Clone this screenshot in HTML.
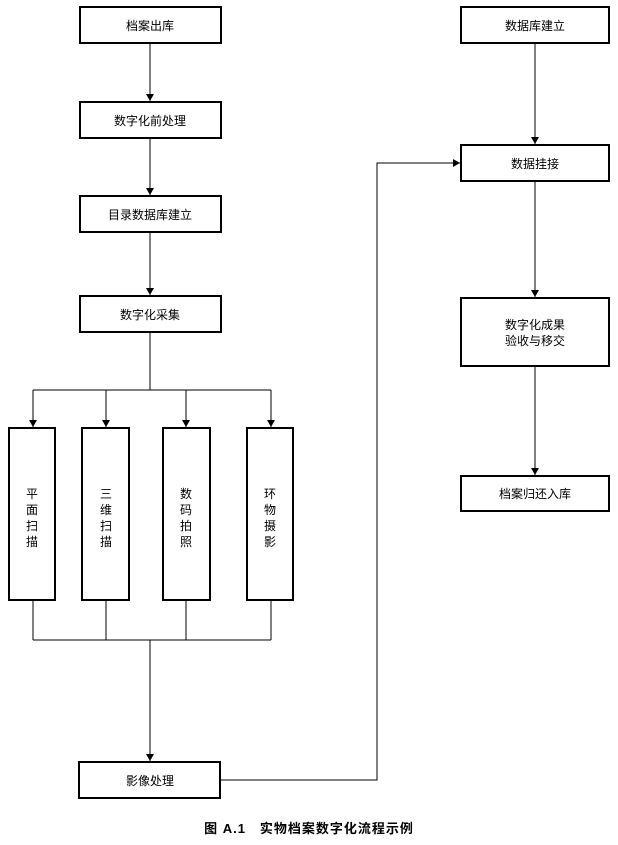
<!DOCTYPE html>
<html><head><meta charset="utf-8"><style>
body{margin:0;background:#fff;}
svg{display:block;font-family:"Liberation Sans","Noto Sans CJK SC",sans-serif;}
</style></head><body>
<svg width="618" height="845" viewBox="0 0 618 845">
<defs><marker id="a" markerWidth="8" markerHeight="10" refX="7" refY="5" orient="auto" markerUnits="userSpaceOnUse"><path d="M0,1 L7,5 L0,9 Z" fill="#000"/></marker></defs>
<g fill="#fff" stroke="#000" stroke-width="2">
<rect x="80" y="7" width="141" height="36"/>
<rect x="80" y="102" width="141" height="36"/>
<rect x="80" y="196" width="141" height="36"/>
<rect x="80" y="296" width="141" height="36"/>
<rect x="9" y="428" width="46" height="172"/>
<rect x="82" y="428" width="47" height="172"/>
<rect x="163" y="428" width="47" height="172"/>
<rect x="247" y="428" width="46" height="172"/>
<rect x="79" y="762" width="141" height="36"/>
<rect x="461" y="7" width="148" height="36"/>
<rect x="461" y="145" width="148" height="36"/>
<rect x="461" y="298" width="148" height="68"/>
<rect x="461" y="476" width="148" height="35"/>
</g>
<g stroke="#000" stroke-width="1" fill="none">
<line x1="150" y1="43" x2="150" y2="101" marker-end="url(#a)"/>
<line x1="150" y1="138" x2="150" y2="195" marker-end="url(#a)"/>
<line x1="150" y1="232" x2="150" y2="295" marker-end="url(#a)"/>
<line x1="150" y1="332" x2="150" y2="390"/>
<line x1="33" y1="390" x2="271" y2="390"/>
<line x1="33" y1="390" x2="33" y2="427" marker-end="url(#a)"/>
<line x1="106" y1="390" x2="106" y2="427" marker-end="url(#a)"/>
<line x1="186" y1="390" x2="186" y2="427" marker-end="url(#a)"/>
<line x1="271" y1="390" x2="271" y2="427" marker-end="url(#a)"/>
<line x1="33" y1="600" x2="33" y2="640"/>
<line x1="106" y1="600" x2="106" y2="640"/>
<line x1="186" y1="600" x2="186" y2="640"/>
<line x1="271" y1="600" x2="271" y2="640"/>
<line x1="33" y1="640" x2="271" y2="640"/>
<line x1="150" y1="640" x2="150" y2="761" marker-end="url(#a)"/>
<polyline points="220,780 377,780 377,163 460,163" marker-end="url(#a)"/>
<line x1="535" y1="43" x2="535" y2="144" marker-end="url(#a)"/>
<line x1="535" y1="181" x2="535" y2="297" marker-end="url(#a)"/>
<line x1="535" y1="366" x2="535" y2="475" marker-end="url(#a)"/>
</g>
<g font-size="12" text-anchor="middle" fill="#000">
<text x="150" y="30">档案出库</text>
<text x="150" y="125">数字化前处理</text>
<text x="150" y="219">目录数据库建立</text>
<text x="150" y="319">数字化采集</text>
<text x="150" y="785">影像处理</text>
<text x="535" y="30">数据库建立</text>
<text x="535" y="168">数据挂接</text>
<text x="535" y="329">数字化成果</text>
<text x="535" y="345">验收与移交</text>
<text x="535" y="498">档案归还入库</text>
<g font-size="12">
<text x="32" y="498">平</text><text x="32" y="514">面</text><text x="32" y="530">扫</text><text x="32" y="546">描</text>
<text x="106" y="498">三</text><text x="106" y="514">维</text><text x="106" y="530">扫</text><text x="106" y="546">描</text>
<text x="186" y="498">数</text><text x="186" y="514">码</text><text x="186" y="530">拍</text><text x="186" y="546">照</text>
<text x="270" y="498">环</text><text x="270" y="514">物</text><text x="270" y="530">摄</text><text x="270" y="546">影</text>
</g>
<text x="309" y="833" font-size="13" font-weight="bold" letter-spacing="1">图 A.1　实物档案数字化流程示例</text>
</g>
</svg>
</body></html>
